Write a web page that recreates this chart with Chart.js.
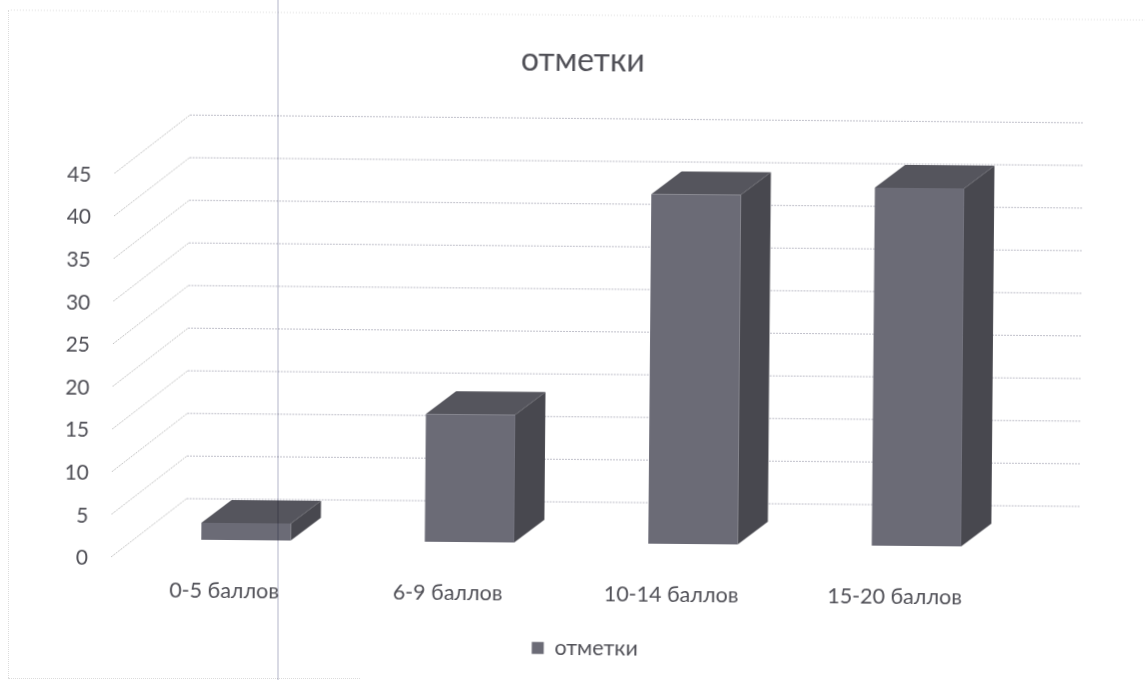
<!DOCTYPE html>
<html>
<head>
	<meta charset="utf-8">
	<title>отметки</title>
	<style>
		html, body { margin: 0; padding: 0; background: #fff; overflow: hidden; }
		#wrap { position: relative; width: 1145px; height: 680px; }
		#chart { position: absolute; left: 0; top: 0; transform: rotate(0.5deg); transform-origin: 572px 340px; }
		#fold { position: absolute; left: 277px; top: 0; width: 2px; height: 680px; background: #d9dae4; mix-blend-mode: multiply; }
		#edgeLeft { position: absolute; left: 8px; top: 10px; height: 668px; border-left: 1px dotted #dcdcdc; }
		#edgeBottom { position: absolute; left: 8px; top: 678px; width: 352px; border-top: 1px dotted #dcdcdc; }
	</style>
</head>
<body>
	<div id="wrap">
		<canvas id="chart" width="1145" height="680"></canvas>
		<div id="edgeLeft"></div>
		<div id="edgeBottom"></div>
		<div id="fold"></div>
	</div>
	<script src="https://cdn.jsdelivr.net/npm/chart.js"></script>
	<script>
		const categories = ['0-5 баллов', '6-9 баллов', '10-14 баллов', '15-20 баллов'];
		const seriesName = 'отметки';
		const values = [2, 15, 41, 42];
		const yTicks = [0, 5, 10, 15, 20, 25, 30, 35, 40, 45];

		const fontFamily = 'Lato, "Open Sans", sans-serif';
		const textColor = '#505057';

		// depth of the box: whole floor, and one bar within it
		const floorDepth = { x: 75, y: 59 };
		const barDepth = { x: 30, y: 23 };
		const barShift = { x: 23, y: 18 };

		const walls = {
			id: 'walls',
			beforeDatasetsDraw(chart) {
				const { ctx, chartArea, scales } = chart;
				ctx.save();
				ctx.lineWidth = 1;
				ctx.setLineDash([2, 1]);
				yTicks.forEach(tick => {
					const y = scales.y.getPixelForValue(tick);
					const backX = chartArea.left + floorDepth.x;
					const backY = y - floorDepth.y;
					ctx.strokeStyle = '#c4c4c4';
					ctx.beginPath();
					ctx.moveTo(chartArea.left, y);
					ctx.lineTo(backX, backY);
					ctx.stroke();
					ctx.strokeStyle = '#c0c0ca';
					ctx.beginPath();
					ctx.moveTo(backX, backY);
					ctx.lineTo(chartArea.right + floorDepth.x, backY);
					ctx.stroke();
				});
				ctx.restore();
			}
		};

		// side and top faces; the front face is the normal bar element
		const boxes = {
			id: 'boxes',
			beforeDatasetsDraw(chart) {
				const { ctx } = chart;
				ctx.save();
				ctx.translate(barShift.x, -barShift.y);
				chart.getDatasetMeta(0).data.forEach(bar => {
					const left = bar.x - bar.width / 2;
					const right = bar.x + bar.width / 2;
					ctx.fillStyle = '#48484f';
					ctx.beginPath();
					ctx.moveTo(right, bar.y);
					ctx.lineTo(right + barDepth.x, bar.y - barDepth.y);
					ctx.lineTo(right + barDepth.x, bar.base - barDepth.y);
					ctx.lineTo(right, bar.base);
					ctx.closePath();
					ctx.fill();
					ctx.fillStyle = '#55555d';
					ctx.beginPath();
					ctx.moveTo(left, bar.y);
					ctx.lineTo(left + barDepth.x, bar.y - barDepth.y);
					ctx.lineTo(right + barDepth.x, bar.y - barDepth.y);
					ctx.lineTo(right, bar.y);
					ctx.closePath();
					ctx.fill();
				});
			},
			afterDatasetsDraw(chart) {
				chart.ctx.restore();
			}
		};

		// white paper and the dotted upper edge of the chart frame
		const paper = {
			id: 'paper',
			beforeDraw(chart) {
				const { ctx, width, height } = chart;
				ctx.save();
				ctx.fillStyle = '#fff';
				ctx.fillRect(0, 0, width, height);
				ctx.strokeStyle = '#dcdcdc';
				ctx.setLineDash([1, 2]);
				ctx.beginPath();
				ctx.moveTo(8, 15);
				ctx.lineTo(width + 10, 15);
				ctx.stroke();
				ctx.restore();
			},
			// the legend sits a little right of the middle
			afterLayout(chart) {
				chart.legend.left += 7;
				chart.legend.right += 7;
			}
		};

		new Chart(document.getElementById('chart'), {
			type: 'bar',
			data: {
				labels: categories,
				datasets: [{
					label: seriesName,
					data: values,
					backgroundColor: '#6b6b76',
					barPercentage: 0.4,
					categoryPercentage: 1
				}]
			},
			plugins: [paper, walls, boxes],
			options: {
				responsive: false,
				animation: false,
				layout: { padding: { left: 16, right: 0, top: 0, bottom: 11 } },
				scales: {
					x: {
						grid: { display: false },
						border: { display: false },
						ticks: { color: textColor, font: { family: fontFamily, size: 21.5 }, padding: 12, labelOffset: 1.5 },
						afterFit(scale) { scale.height = 66.5; }
					},
					y: {
						min: 0,
						max: 45,
						grid: { display: false },
						border: { display: false },
						afterBuildTicks(scale) { scale.ticks = yTicks.map(value => ({ value })); },
						ticks: { color: textColor, font: { family: fontFamily, size: 21 }, padding: 15, labelOffset: 1.5 },
						afterFit(scale) { scale.width = 97; }
					},
					// empty strip that keeps the floor clear of the right edge
					rightGap: {
						position: 'right',
						min: 0,
						max: 45,
						grid: { display: false },
						border: { display: false },
						ticks: { display: false },
						afterFit(scale) { scale.width = 138; }
					}
				},
				plugins: {
					title: {
						display: true,
						text: seriesName,
						color: textColor,
						font: { family: fontFamily, size: 32, weight: 'normal' },
						padding: { top: 41, bottom: 98 }
					},
					legend: {
						position: 'bottom',
						labels: { color: textColor, font: { family: fontFamily, size: 21.5 }, boxWidth: 12, boxHeight: 12 }
					},
					tooltip: { enabled: false }
				}
			}
		});
	</script>
</body>
</html>
